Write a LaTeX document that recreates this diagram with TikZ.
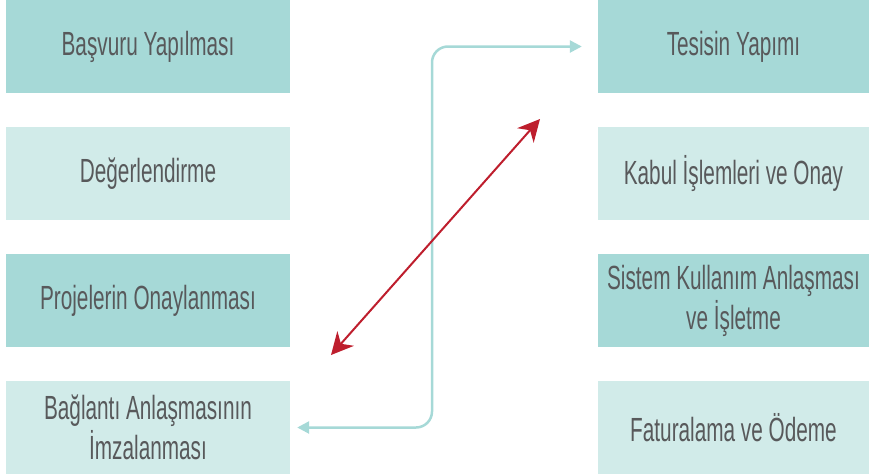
\documentclass[tikz,border=0pt]{standalone}
\usepackage{fontspec}
\setmainfont[FakeStretch=0.62]{Liberation Sans}
\usetikzlibrary{arrows.meta}
\definecolor{tealdark}{HTML}{A6D9D7}
\definecolor{teallight}{HTML}{D1EBE9}
\definecolor{txtgray}{HTML}{58595B}
\definecolor{arrowred}{HTML}{BE1E2D}
\tikzset{
  box/.style={rectangle, inner sep=0pt, minimum height=93pt, text=txtgray,
    align=center, font=\fontsize{33.5}{40}\selectfont},
  leftbox/.style={box, minimum width=284pt},
  rightbox/.style={box, minimum width=271pt},
  darkbox/.style={fill=tealdark},
  lightbox/.style={fill=teallight},
  tealline/.style={draw=tealdark, line width=2.5pt, rounded corners=16pt,
    {Triangle[length=12pt,width=12pt]}-{Triangle[length=12pt,width=12pt]}},
  redline/.style={draw=arrowred, line width=2pt,
    {Stealth[length=22pt,width=22pt,inset=7pt]}-{Stealth[length=22pt,width=22pt,inset=7pt]}}
}
\begin{document}
\begin{tikzpicture}[x=1pt,y=-1pt]
\useasboundingbox (0,0) rectangle (869,474);
\node[leftbox,darkbox]  (l1) at (148,46.5)  {Başvuru Yapılması};
\node[leftbox,lightbox] (l2) at (148,173.5) {Değerlendirme};
\node[leftbox,darkbox]  (l3) at (148,300.5) {Projelerin Onaylanması};
\node[leftbox,lightbox] (l4) at (148,427.5) {Bağlantı Anlaşmasının\\İmzalanması};
\node[rightbox,darkbox]  (r1) at (733.5,46.5)  {Tesisin Yapımı};
\node[rightbox,lightbox] (r2) at (733.5,173.5) {Kabul İşlemleri ve Onay};
\node[rightbox,darkbox]  (r3) at (733.5,300.5) {Sistem Kullanım Anlaşması\\ve İşletme};
\node[rightbox,lightbox] (r4) at (733.5,427.5) {Faturalama ve Ödeme};
% connectors
\coordinate (ta) at ([xshift=7pt]l4.east);
\coordinate (tb) at ([xshift=-16pt]r1.west);
\coordinate (tbend) at (432,0);
\draw[tealline] (ta) -- (tbend |- ta) -- (tbend |- tb) -- (tb);
\coordinate (ra) at (331,355);
\coordinate (rb) at (540,119);
\draw[redline] (ra) -- (rb);
\end{tikzpicture}
\end{document}
